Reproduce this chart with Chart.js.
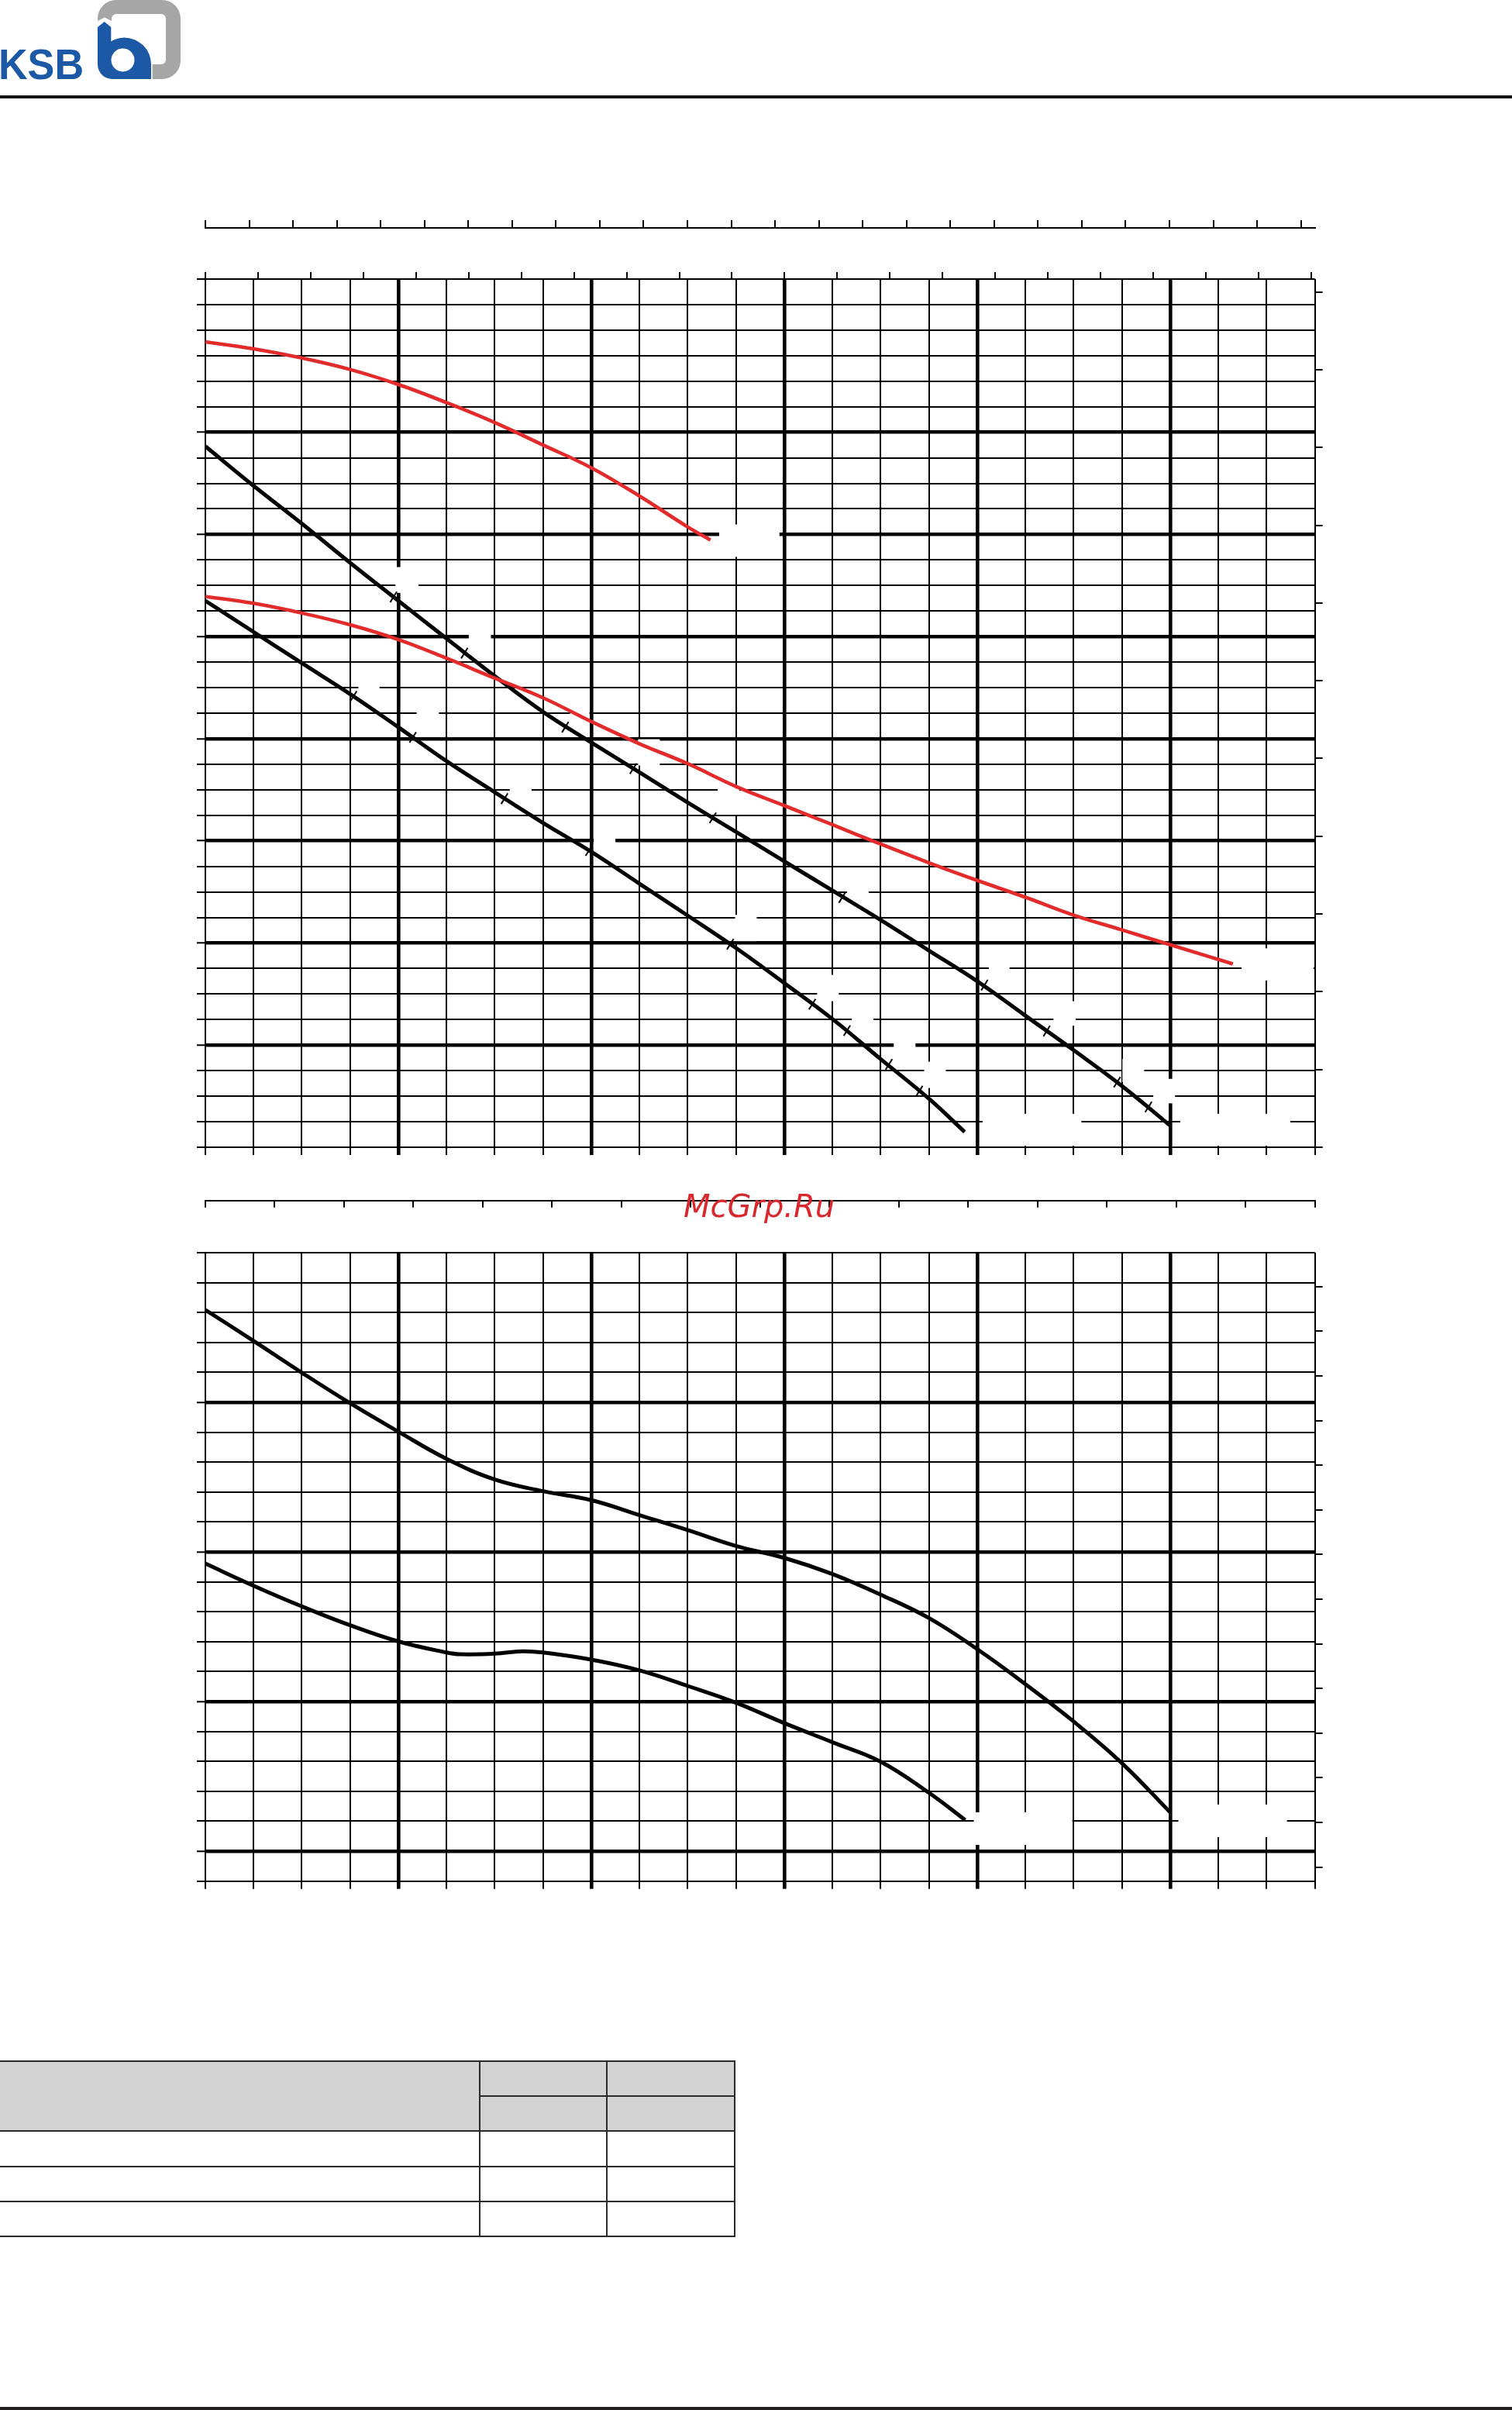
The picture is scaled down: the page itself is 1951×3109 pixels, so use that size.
<!DOCTYPE html>
<html>
<head>
<meta charset="utf-8">
<title>KSB curves</title>
<script src="https://cdn.jsdelivr.net/npm/chart.js@4.4.1/dist/chart.umd.min.js"></script>
<style>
html,body{margin:0;padding:0;background:#fff;}
body{width:1951px;height:3109px;position:relative;overflow:hidden;}
.abs{position:absolute;}
#hdrLine{left:0;top:123px;width:1951px;height:4px;background:#151515;}
#ftrLine{left:0;top:3105px;width:1951px;height:4px;background:#231f20;}
#c1wrap{left:0;top:0;width:1951px;height:1520px;}
#c2wrap{left:0;top:1500px;width:1951px;height:1000px;}
#wm{left:882px;top:1536px;font-family:"DejaVu Sans",sans-serif;font-style:italic;font-size:40px;line-height:40px;color:#d9272e;white-space:nowrap;z-index:5;}
.tl{position:absolute;background:#2b2b2b;}
</style>
</head>
<body>
<svg class="abs" style="left:0;top:0" width="240" height="106" viewBox="0 0 240 106">
  <path fill="#a6a6a6" fill-rule="evenodd" d="M150,0 H209 A24,24 0 0 1 233,24 V78 A24,24 0 0 1 209,102 H150 A24,24 0 0 1 126,78 V24 A24,24 0 0 1 150,0 Z M150,18 H208 A6,6 0 0 1 214,24 V77 A6,6 0 0 1 208,83 H150 A6,6 0 0 1 144,77 V24 A6,6 0 0 1 150,18 Z"/>
  <path fill="#fff" d="M122,29 L135,22.5 L148,29 V106 H122 Z M146,79 H196.6 V106 H146 Z"/>
  <path fill="#1b59a6" d="M126,35 L134.7,28 L143.3,35 V84 H126 Z"/>
  <path fill="#1b59a6" d="M126,83 A34.5,34.5 0 0 1 195,83 V102 H145 A19,19 0 0 1 126,83 Z"/>
  <circle cx="158.5" cy="77.5" r="15" fill="#fff"/>
  <text x="-2" y="101.7" font-family="Liberation Sans, Arial, sans-serif" font-weight="bold" font-size="56" fill="#1b59a6" textLength="110" lengthAdjust="spacingAndGlyphs">KSB</text>
</svg>
<div id="hdrLine" class="abs"></div>

<div id="c1wrap" class="abs"><canvas id="c1"></canvas></div>
<div id="c2wrap" class="abs"><canvas id="c2"></canvas></div>
<div id="wm" class="abs">McGrp.Ru</div>

<!-- table -->
<div class="abs" style="left:0;top:2659px;width:948px;height:90px;background:#d3d3d3;"></div>
<div class="tl" style="left:0;top:2658px;width:949px;height:2px;"></div>
<div class="tl" style="left:618px;top:2703px;width:331px;height:2px;"></div>
<div class="tl" style="left:0;top:2748px;width:949px;height:2px;"></div>
<div class="tl" style="left:0;top:2794px;width:949px;height:2px;"></div>
<div class="tl" style="left:0;top:2839px;width:949px;height:2px;"></div>
<div class="tl" style="left:0;top:2884px;width:949px;height:2px;"></div>
<div class="tl" style="left:617.5px;top:2658px;width:2px;height:228px;"></div>
<div class="tl" style="left:782px;top:2658px;width:2px;height:228px;"></div>
<div class="tl" style="left:947px;top:2658px;width:2px;height:228px;"></div>

<div id="ftrLine" class="abs"></div>

<script>
// ---------------- DATA (grid-cell units) ----------------
// Upper diagram: x = 0..23 cells, y = 0..34 cells
const topRedUpperX = [0, 1, 2, 3, 4, 5, 6, 7, 8, 9, 10, 10.47];
const topRedUpperY = [31.54, 31.27, 30.91, 30.46, 29.87, 29.16, 28.38, 27.5, 26.61, 25.5, 24.29, 23.78];

const topRedLowerX = [0, 1, 2, 3, 4, 5, 6, 7, 8, 9, 10, 11, 12, 13, 14, 15, 16, 17, 18, 19, 20, 21.3];
const topRedLowerY = [21.57, 21.3, 20.92, 20.46, 19.88, 19.15, 18.37, 17.6, 16.67, 15.8, 15.02, 14.13, 13.38, 12.63, 11.87, 11.14, 10.45, 9.79, 9.09, 8.51, 7.93, 7.18];

const topBlackAX = [0, 1, 2, 3, 4, 5, 6, 7, 8, 9, 10, 11, 12, 13, 14, 15, 16, 17, 18, 19, 20];
const topBlackAY = [27.45, 25.9, 24.42, 22.89, 21.4, 19.92, 18.45, 17.05, 15.85, 14.68, 13.5, 12.35, 11.2, 10.05, 8.9, 7.7, 6.5, 5.15, 3.8, 2.4, 0.85];

const topBlackBX = [0, 1, 2, 3, 4, 5, 6, 7, 8, 9, 10, 11, 12, 13, 14, 15, 15.74];
const topBlackBY = [21.4, 20.18, 18.96, 17.75, 16.45, 15.12, 13.9, 12.7, 11.57, 10.32, 9.07, 7.8, 6.43, 5.02, 3.45, 1.9, 0.6];

const markAX = [3.9, 5.37, 7.46, 8.87, 10.52, 13.2, 16.15, 17.44, 18.9, 19.55];
const markAY = [21.55, 19.35, 16.45, 14.83, 12.9, 9.78, 6.35, 4.55, 2.55, 1.58];
const markBX = [3.07, 4.3, 6.2, 7.95, 10.88, 12.58, 13.3, 14.17, 14.8];
const markBY = [17.66, 16.05, 13.65, 11.62, 7.95, 5.6, 4.57, 3.25, 2.2];

// Lower diagram: x = 0..23 cells, y = -1..20 cells
const botCurveCX = [0, 1, 2, 3, 4, 5, 6, 7, 8, 9, 10, 11, 12, 13, 14, 15, 16, 17, 18, 19, 20];
const botCurveCY = [18.09, 17.05, 15.99, 14.97, 14.02, 13.11, 12.42, 12.03, 11.73, 11.23, 10.73, 10.2, 9.8, 9.26, 8.57, 7.79, 6.75, 5.58, 4.33, 2.94, 1.3];

const botCurveDX = [0, 1, 2, 3, 4, 5, 5.28, 6, 6.56, 7, 8, 9, 10, 11, 12, 13, 14, 15, 15.75];
const botCurveDY = [9.61, 8.87, 8.18, 7.55, 7.01, 6.64, 6.58, 6.6, 6.68, 6.64, 6.4, 6.04, 5.52, 4.96, 4.28, 3.64, 2.99, 1.95, 1.04];

// thick grid lines
const topThickX = [4, 8, 12, 16, 20];
const topThickY = [4, 8, 12, 16, 20, 24, 28];
const botThickX = [4, 8, 12, 16, 20];
const botThickY = [0, 5, 10, 15];

// blank label areas left in the grid (x0, x1, y0, y1 in cell units)
const topBlankBoxes = [
  [16.11, 18.16, 0.06, 1.31], [20.21, 22.49, 0.06, 1.31], [19.65, 20.1, 1.72, 2.68],
  [19.01, 19.46, 2.55, 3.46], [17.58, 18.04, 4.76, 5.72], [16.24, 16.67, 6.53, 7.44],
  [21.48, 22.97, 6.53, 7.79], [3.94, 4.42, 21.71, 22.72], [5.46, 5.92, 19.49, 20.46],
  [3.17, 3.61, 17.49, 18.46], [4.38, 4.84, 16.48, 17.46], [6.31, 6.76, 13.51, 14.48],
  [10.65, 11.9, 23.12, 24.39],
  [7.56, 7.96, 16.57, 17.6], [8.97, 9.42, 14.95, 15.98], [10.62, 11.07, 13.02, 14.05],
  [13.3, 13.75, 9.9, 10.93], [8.05, 8.5, 11.74, 12.77], [10.98, 11.43, 8.07, 9.1],
  [12.68, 13.13, 5.72, 6.75], [13.4, 13.85, 4.69, 5.72], [14.27, 14.72, 3.37, 4.4],
  [14.9, 15.35, 2.32, 3.35]
];
const botBlankBoxes = [
  [15.93, 17.97, 0.21, 1.3], [20.17, 22.42, 0.47, 1.56]
];

// ---------------- helpers ----------------
const BLACK = '#000';
const RED = '#e32b2b';
const THIN = 2, THICK = 4.6, CURVE = 5;
const pts = (xs, ys) => xs.map((x, i) => ({x: x, y: ys[i]}));
const thickAt = list => c => (c.tick && list.includes(c.tick.value)) ? THICK : THIN;
const fixH = h => s => { s.height = h; };
const fixW = w => s => { s.width = w; };

function curve(xs, ys, color, w) {
  return {data: pts(xs, ys), borderColor: color, borderWidth: w || CURVE, pointRadius: 0,
    tension: 0.4, fill: false, xAxisID: 'x', yAxisID: 'y'};
}
function marks(xs, ys) {
  return {data: pts(xs, ys), showLine: false, pointStyle: 'line', pointRadius: 8,
    pointRotation: -58, pointBorderWidth: 2, pointBorderColor: BLACK,
    pointBackgroundColor: BLACK, xAxisID: 'x', yAxisID: 'y'};
}
function hiddenTicks() { return {display: false, stepSize: 1, includeBounds: false}; }

const blankPlugin = {
  id: 'blankBoxes',
  beforeDatasetsDraw(chart, args, opts) {
    const sx = chart.scales.x, sy = chart.scales.y, ctx = chart.ctx;
    ctx.save();
    ctx.fillStyle = '#fff';
    (opts.boxes || []).forEach(b => {
      const x0 = sx.getPixelForValue(b[0]), x1 = sx.getPixelForValue(b[1]);
      const y0 = sy.getPixelForValue(b[3]), y1 = sy.getPixelForValue(b[2]);
      ctx.fillRect(x0, y0, x1 - x0, y1 - y0);
    });
    ctx.restore();
  }
};

function opts(padding, scales, boxes) {
  return {
    responsive: true, maintainAspectRatio: false, animation: false, events: [],
    layout: {padding: padding},
    plugins: {legend: {display: false}, tooltip: {enabled: false}, blankBoxes: {boxes: boxes}},
    scales: scales
  };
}

// ---------------- upper chart ----------------
new Chart(document.getElementById('c1'), {
  type: 'line',
  plugins: [blankPlugin],
  data: {datasets: [
    curve(topRedUpperX, topRedUpperY, RED, 4.6),
    curve(topRedLowerX, topRedLowerY, RED, 4.6),
    marks(markAX, markAY),
    marks(markBX, markBY),
    curve(topBlackAX, topBlackAY, BLACK),
    curve(topBlackBX, topBlackBY, BLACK)
  ]},
  options: opts({left: 245, right: 234.3, top: 274, bottom: 20}, {
    x: {type: 'linear', position: 'bottom', min: 0, max: 23, ticks: hiddenTicks(),
      grid: {color: BLACK, lineWidth: thickAt(topThickX), tickWidth: thickAt(topThickX), tickLength: 10},
      border: {display: true, color: BLACK, width: THIN}, afterFit: fixH(20)},
    y: {type: 'linear', position: 'left', min: 0, max: 34, ticks: hiddenTicks(),
      grid: {color: BLACK, lineWidth: thickAt(topThickY), tickWidth: THIN, tickLength: 11},
      border: {display: true, color: BLACK, width: THIN}, afterFit: fixW(20)},
    y2: {type: 'linear', position: 'right', min: 0, max: 11.166, ticks: hiddenTicks(),
      grid: {drawOnChartArea: false, color: BLACK, lineWidth: THIN, tickLength: 10},
      border: {display: false}, afterFit: fixW(20)},
    xTop: {type: 'linear', position: 'top', weight: 1, min: 0, max: 21.07, ticks: hiddenTicks(),
      grid: {drawOnChartArea: false, color: BLACK, lineWidth: THIN, tickLength: 9},
      border: {display: false}, afterFit: fixH(66)},
    xTop2: {type: 'linear', position: 'top', weight: 2, min: 0, max: 25.32, ticks: hiddenTicks(),
      grid: {drawOnChartArea: false, color: BLACK, lineWidth: THIN, tickLength: 10},
      border: {display: true, color: BLACK, width: THIN}, afterFit: fixH(20)}
  }, topBlankBoxes)
});

// ---------------- lower chart ----------------
new Chart(document.getElementById('c2'), {
  type: 'line',
  plugins: [blankPlugin],
  data: {datasets: [
    curve(botCurveCX, botCurveCY, BLACK),
    curve(botCurveDX, botCurveDY, BLACK)
  ]},
  options: opts({left: 245, right: 234.3, top: 28.7, bottom: 53.3}, {
    x: {type: 'linear', position: 'bottom', min: 0, max: 23, ticks: hiddenTicks(),
      grid: {color: BLACK, lineWidth: thickAt(botThickX), tickWidth: thickAt(botThickX), tickLength: 10},
      border: {display: true, color: BLACK, width: THIN}, afterFit: fixH(20)},
    y: {type: 'linear', position: 'left', min: -1, max: 20, ticks: hiddenTicks(),
      grid: {color: BLACK, lineWidth: thickAt(botThickY), tickWidth: THIN, tickLength: 11},
      border: {display: true, color: BLACK, width: THIN}, afterFit: fixW(20)},
    y2: {type: 'linear', position: 'right', min: -0.3125, max: 13.76, ticks: hiddenTicks(),
      grid: {drawOnChartArea: false, color: BLACK, lineWidth: THIN, tickLength: 10},
      border: {display: false}, afterFit: fixW(20)},
    xGap: {type: 'linear', position: 'top', weight: 1, min: 0, max: 1, ticks: hiddenTicks(),
      grid: {drawOnChartArea: false, drawTicks: false},
      border: {display: false}, afterFit: fixH(67.3)},
    xTop: {type: 'linear', position: 'top', weight: 2, min: 0, max: 16, ticks: hiddenTicks(),
      grid: {drawOnChartArea: false, color: BLACK, lineWidth: THIN, tickLength: -9},
      border: {display: true, color: BLACK, width: THIN}, afterFit: fixH(20)}
  }, botBlankBoxes)
});
</script>
</body>
</html>
